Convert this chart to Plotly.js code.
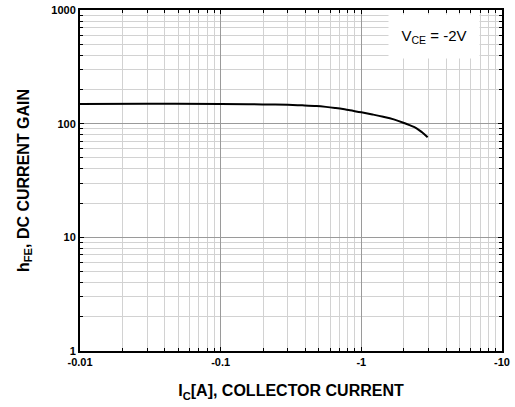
<!DOCTYPE html>
<html>
<head>
<meta charset="utf-8">
<script src="https://cdn.plot.ly/plotly-3.0.1.min.js"></script>
<style>html,body{margin:0;padding:0;background:#fff;}#chart{width:515px;height:407px;}</style>
</head>
<body>
<div id="chart"></div>
<script>
// Collector current magnitude |Ic| (A) and DC current gain hFE
const icA = [0.01, 0.03, 0.1, 0.161, 0.22, 0.30, 0.38, 0.48, 0.56, 0.65, 0.74, 0.83, 1.0, 1.2, 1.43, 1.7, 1.99, 2.2, 2.47, 2.7, 2.96];
const hFE = [149, 150, 149, 148, 147.5, 146.5, 145, 143, 140.5, 137.5, 134.5, 131, 126, 120.5, 115, 109, 102, 97, 91, 84, 76];

const xTickVals = [0.01, 0.1, 1, 10];
const xTickText = ["-0.01", "-0.1", "-1", "-10"];
const yTickVals = [1, 10, 100, 1000];
const yTickText = ["1", "10", "100", "1000"];

function minorVals(lo, hi) {
  const out = [];
  for (let d = lo; d < hi; d *= 10) for (let k = 2; k <= 9; k++) out.push(d * k);
  return out;
}

const FONT = "Liberation Sans, Arial, Helvetica, sans-serif";

const trace = {
  x: icA, y: hFE, type: "scatter", mode: "lines",
  line: {color: "#000", width: 2, shape: "spline", smoothing: 1},
  hoverinfo: "skip"
};

const axisCommon = {
  type: "log",
  showline: true, linecolor: "#000", linewidth: 2, mirror: "allticks",
  ticks: "inside", ticklen: 4, tickcolor: "#000", tickwidth: 1,
  showgrid: true, gridcolor: "#9a9a9a", gridwidth: 1,
  zeroline: false,
  tickfont: {family: FONT, size: 11, color: "#000", weight: "bold"}
};

const layout = {
  width: 515, height: 407,
  margin: {l: 80, r: 13, t: 10, b: 56},
  paper_bgcolor: "#fff", plot_bgcolor: "#fff",
  showlegend: false,
  xaxis: Object.assign({}, axisCommon, {
    range: [-2, 1], tickmode: "array", tickvals: xTickVals, ticktext: xTickText,
    minor: {tickmode: "array", tickvals: minorVals(0.01, 10), showgrid: true, gridcolor: "#d2d2d2", gridwidth: 1, ticks: "inside", ticklen: 3, tickcolor: "#000"},
    title: {text: "I<sub>C</sub>[A], COLLECTOR CURRENT", standoff: 18, font: {family: FONT, size: 16, color: "#000", weight: "bold"}}
  }),
  yaxis: Object.assign({}, axisCommon, {
    range: [0, 3], tickmode: "array", tickvals: yTickVals, ticktext: yTickText,
    minor: {tickmode: "array", tickvals: minorVals(1, 1000), showgrid: true, gridcolor: "#d2d2d2", gridwidth: 1, ticks: "inside", ticklen: 3, tickcolor: "#000"},
    title: {text: "h<sub>FE</sub>, DC CURRENT GAIN", standoff: 18, font: {family: FONT, size: 16, color: "#000", weight: "bold"}}
  }),
  annotations: [{
    xref: "paper", yref: "paper", x: 0.839, y: 0.922,
    xanchor: "center", yanchor: "middle",
    text: "V<sub>CE</sub> = -2V", showarrow: false,
    font: {family: FONT, size: 15, color: "#000"},
    bgcolor: "#fff", width: 88, height: 41
  }]
};

Plotly.newPlot("chart", [trace], layout, {staticPlot: true, displayModeBar: false});
</script>
</body>
</html>
